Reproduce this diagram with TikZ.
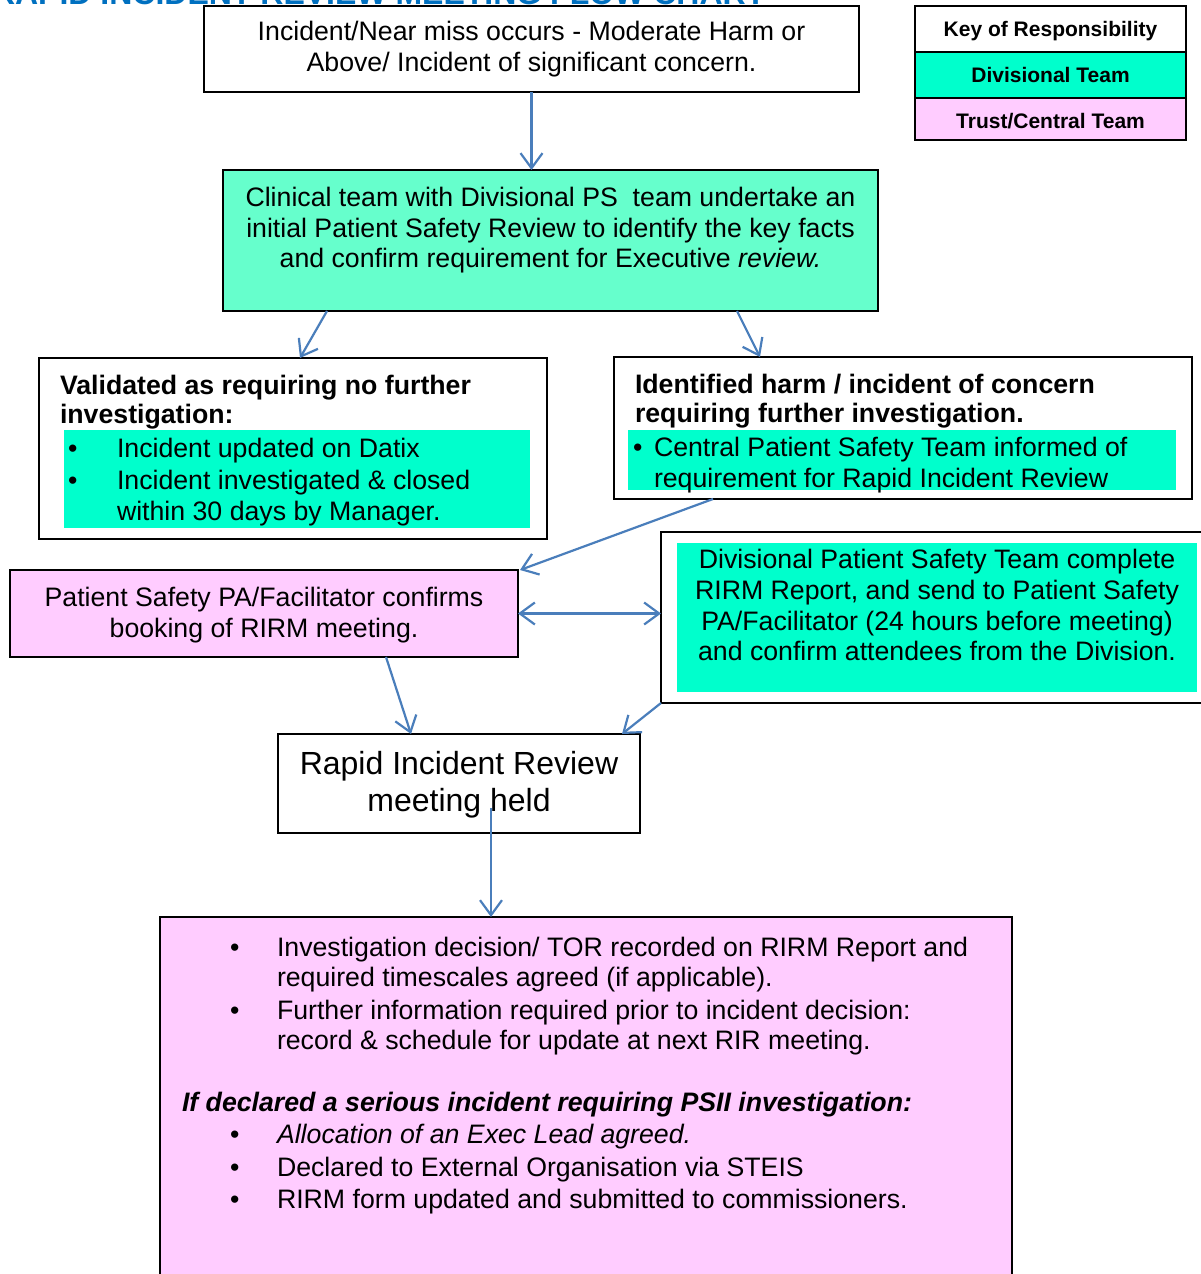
\documentclass[tikz,border=0pt]{standalone}
\usepackage{fontspec}
\setmainfont{Liberation Sans}
\usetikzlibrary{arrows.meta}
\definecolor{titleblue}{HTML}{0070C0}
\definecolor{lightgreen}{HTML}{66FFCC}
\definecolor{divgreen}{HTML}{00FFCC}
\definecolor{trustpink}{HTML}{FFCCFF}
\definecolor{arrowblue}{HTML}{4A7EBB}
\newcommand\fA{\fontsize{26.7}{31}\selectfont}
\newcommand\fB{\fontsize{32}{37}\selectfont}
\newcommand\fK{\fontsize{21}{25}\selectfont\bfseries}
\newcommand\fT{\fontsize{32}{37}\selectfont\bfseries}
\begin{document}
\begin{tikzpicture}[x=1pt,y=-1pt,
  box/.style={draw=black, line width=1.8pt, inner sep=0pt, outer sep=0pt},
  strip/.style={draw=none, inner sep=0pt, outer sep=0pt, fill=divgreen},
  txt/.style={inner sep=0pt, outer sep=0pt, font=\fA, yshift=1pt},
  arr/.style={draw=arrowblue, line width=2.2pt, -{Straight Barb[length=15pt,width=22pt]}},
  darr/.style={draw=arrowblue, line width=2.2pt, {Straight Barb[length=15pt,width=22pt]}-{Straight Barb[length=15pt,width=22pt]}}
]
\useasboundingbox (0,0) rectangle (1200,1274);
\fill[white] (0,0) rectangle (1200,1274);

% title (cut off at top, as in the reference)
\node[txt, anchor=base west, text=titleblue, font=\fT] (title) at (-8,6) {RAPID INCIDENT REVIEW MEETING FLOW CHART};

% key
\node[box, fill=white, minimum width=271, minimum height=46] (k1) at (1050.5,29) {};
\node[box, fill=divgreen, minimum width=271, minimum height=46] (k2) at (1050.5,75) {};
\node[box, fill=trustpink, minimum width=271, minimum height=42] (k3) at (1050.5,119) {};
\node[txt, font=\fK, anchor=base] (k1t) at (1050.5,37) {Key of Responsibility};
\node[txt, font=\fK, anchor=base] (k2t) at (1050.5,83) {Divisional Team};
\node[txt, font=\fK, anchor=base] (k3t) at (1050.5,129) {Trust/Central Team};

% box 1
\node[box, fill=white, minimum width=655, minimum height=86] (b1) at (531.5,49) {};
\node[txt, anchor=base] (t1a) at (531.5,41.5) {Incident/Near miss occurs - Moderate Harm or};
\node[txt, anchor=base] (t1b) at (531.5,72.5) {Above/ Incident of significant concern.};

% box 2
\node[box, fill=lightgreen, minimum width=655, minimum height=141] (b2) at (550.5,240.5) {};
\node[txt, anchor=base] (t2a) at (550.5,207) {Clinical team with Divisional PS\ \ team undertake an};
\node[txt, anchor=base] (t2b) at (550.5,238) {initial Patient Safety Review to identify the key facts};
\node[txt, anchor=base] (t2c) at (550.5,268) {and confirm requirement for Executive \textit{review.}};

% box 3
\node[box, fill=white, minimum width=508, minimum height=181] (b3) at (293,448.5) {};
\node[strip, minimum width=466, minimum height=98] (s3) at (297,479) {};
\node[txt, anchor=base west, font=\fA\bfseries] (t3a) at (60,395) {Validated as requiring no further};
\node[txt, anchor=base west, font=\fA\bfseries] (t3b) at (60,424) {investigation:};
\node[txt, anchor=base west] (u3a) at (68,458) {•};
\node[txt, anchor=base west] (t3c) at (117,458) {Incident updated on Datix};
\node[txt, anchor=base west] (u3b) at (68,490) {•};
\node[txt, anchor=base west] (t3d) at (117,490) {Incident investigated \& closed};
\node[txt, anchor=base west] (t3e) at (117,521) {within 30 days by Manager.};

% box 4
\node[box, fill=white, minimum width=578, minimum height=142] (b4) at (903,428) {};
\node[strip, minimum width=548, minimum height=60] (s4) at (902,460) {};
\node[txt, anchor=base west, font=\fA\bfseries] (t4a) at (635,394) {Identified harm / incident of concern};
\node[txt, anchor=base west, font=\fA\bfseries] (t4b) at (635,423) {requiring further investigation.};
\node[txt, anchor=base west] (u4a) at (633,457) {•};
\node[txt, anchor=base west] (t4c) at (654,457) {Central Patient Safety Team informed of};
\node[txt, anchor=base west] (t4d) at (654,488) {requirement for Rapid Incident Review};

% box 5
\node[box, fill=trustpink, minimum width=508, minimum height=87] (b5) at (264,613.5) {};
\node[txt, anchor=base] (t5a) at (264,607) {Patient Safety PA/Facilitator confirms};
\node[txt, anchor=base] (t5b) at (264,638) {booking of RIRM meeting.};

% box 6
\node[box, fill=white, minimum width=549, minimum height=171] (b6) at (935.5,617.5) {};
\node[strip, minimum width=520, minimum height=149] (s6) at (937,617.5) {};
\node[txt, anchor=base] (t6a) at (937,569) {Divisional Patient Safety Team complete};
\node[txt, anchor=base] (t6b) at (937,600) {RIRM Report, and send to Patient Safety};
\node[txt, anchor=base] (t6c) at (937,631) {PA/Facilitator (24 hours before meeting)};
\node[txt, anchor=base] (t6d) at (937,661) {and confirm attendees from the Division.};

% box 7
\node[box, fill=white, minimum width=362, minimum height=99] (b7) at (459,783.5) {};
\node[txt, anchor=base, font=\fB] (t7a) at (459,775) {Rapid Incident Review};
\node[txt, anchor=base, font=\fB] (t7b) at (459,812) {meeting held};

% box 8
\node[box, fill=trustpink, minimum width=852, minimum height=373] (b8) at (586,1103.5) {};
\node[txt, anchor=base west] (u8a) at (230,957) {•};
\node[txt, anchor=base west] (t8a) at (277,957) {Investigation decision/ TOR recorded on RIRM Report and};
\node[txt, anchor=base west] (t8b) at (277,987) {required timescales agreed (if applicable).};
\node[txt, anchor=base west] (u8b) at (230,1020) {•};
\node[txt, anchor=base west] (t8c) at (277,1020) {Further information required prior to incident decision:};
\node[txt, anchor=base west] (t8d) at (277,1050) {record \& schedule for update at next RIR meeting.};
\node[txt, anchor=base west, font=\fA\bfseries\itshape] (t8e) at (182,1112) {If declared a serious incident requiring PSII investigation:};
\node[txt, anchor=base west] (u8c) at (230,1144) {•};
\node[txt, anchor=base west, font=\fA\itshape] (t8f) at (277,1144) {Allocation of an Exec Lead agreed.};
\node[txt, anchor=base west] (u8d) at (230,1177) {•};
\node[txt, anchor=base west] (t8g) at (277,1177) {Declared to External Organisation via STEIS};
\node[txt, anchor=base west] (u8e) at (230,1209) {•};
\node[txt, anchor=base west] (t8h) at (277,1209) {RIRM form updated and submitted to commissioners.};

% connectors
\draw[arr] (b1.south) -- ([xshift=-19]b2.north);
\draw[arr] ([xshift=104]b2.south west) -- ([xshift=261]b3.north west);
\draw[arr] ([xshift=514]b2.south west) -- ([xshift=146]b4.north west);
\draw[arr] ([xshift=99]b4.south west) -- ([xshift=2]b5.north east);
\draw[darr] (b5.east) -- (b5.east -| b6.west);
\draw[arr] ([xshift=376]b5.south west) -- ([xshift=133]b7.north west);
\draw[arr] (b6.south west) -- ([xshift=-18]b7.north east);
\draw[arr] ([xshift=32,yshift=-24.5]b7.center) -- ([xshift=-95]b8.north);
\end{tikzpicture}
\end{document}
